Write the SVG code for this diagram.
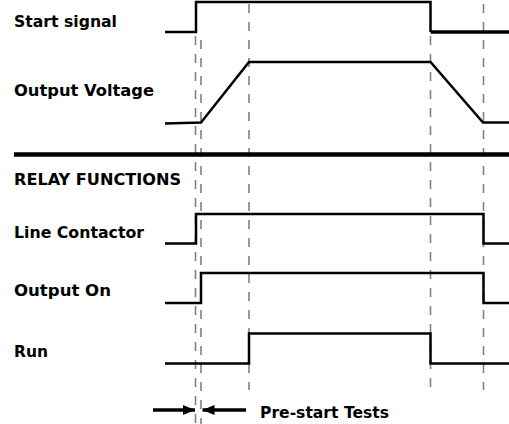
<svg xmlns="http://www.w3.org/2000/svg" width="509" height="424" viewBox="0 0 509 424">
<style>
.lbl{font-family:"DejaVu Sans","Liberation Sans",sans-serif;font-weight:bold;font-size:16px;fill:#000}
.sig{fill:none;stroke:#000;stroke-width:2.5;stroke-linejoin:miter}
.dash{fill:none;stroke:#808080;stroke-width:1.6;stroke-dasharray:9 9}
</style>
<defs>
<marker id="ah" viewBox="0 0 12 10" refX="12" refY="5" markerWidth="12" markerHeight="10" markerUnits="userSpaceOnUse" orient="auto">
<path d="M0,0 L12,5 L0,10 Z" fill="#000"/>
</marker>
</defs>
<rect width="509" height="424" fill="#fff"/>
<g id="guides">
<line class="dash" x1="195.5" y1="36" x2="195.5" y2="424"/>
<line class="dash" x1="201" y1="40" x2="201" y2="424"/>
<line class="dash" x1="249" y1="4" x2="249" y2="390"/>
<line class="dash" x1="430.5" y1="36" x2="430.5" y2="390"/>
<line class="dash" x1="483.5" y1="4" x2="483.5" y2="390"/>
</g>
<g id="start-signal">
<text class="lbl" x="14" y="27" textLength="103" lengthAdjust="spacingAndGlyphs">Start signal</text>
<polyline class="sig" points="165,32 196,32 196,2 430.5,2 430.5,32"/>
<line x1="430.5" y1="32" x2="509" y2="32" stroke="#000" stroke-width="3.5"/>
</g>
<g id="output-voltage">
<text class="lbl" x="14" y="96" textLength="140" lengthAdjust="spacingAndGlyphs">Output Voltage</text>
<polyline class="sig" points="165,123.5 201,122.5 249,62 430.5,62 483,122.5 509,122.5" stroke-width="2.2"/>
</g>
<g id="separator">
<line x1="14" y1="154.5" x2="509" y2="154.5" stroke="#000" stroke-width="4.5"/>
</g>
<g id="relay-functions">
<text class="lbl" x="14" y="185" textLength="167" lengthAdjust="spacingAndGlyphs">RELAY FUNCTIONS</text>
</g>
<g id="line-contactor">
<text class="lbl" x="14" y="238" textLength="130" lengthAdjust="spacingAndGlyphs">Line Contactor</text>
<polyline class="sig" points="165,243.5 196,243.5 196,214 483.5,214 483.5,243.5 509,243.5" stroke-width="2.7"/>
</g>
<g id="output-on">
<text class="lbl" x="14" y="296" textLength="97" lengthAdjust="spacingAndGlyphs">Output On</text>
<polyline class="sig" points="165,303 201,303 201,273 483.5,273 483.5,303 509,303"/>
</g>
<g id="run">
<text class="lbl" x="14" y="357" textLength="34" lengthAdjust="spacingAndGlyphs">Run</text>
<polyline class="sig" points="165,363.5 249,363.5 249,333.5 430.5,333.5 430.5,363.5 509,363.5"/>
</g>
<g id="connectors">
<line x1="153" y1="410" x2="195" y2="410" stroke="#000" stroke-width="3.5" marker-end="url(#ah)"/>
<line x1="246" y1="410" x2="202.5" y2="410" stroke="#000" stroke-width="3.5" marker-end="url(#ah)"/>
</g>
<g id="pre-start">
<text class="lbl" x="260" y="418" textLength="129" lengthAdjust="spacingAndGlyphs">Pre-start Tests</text>
</g>
</svg>
